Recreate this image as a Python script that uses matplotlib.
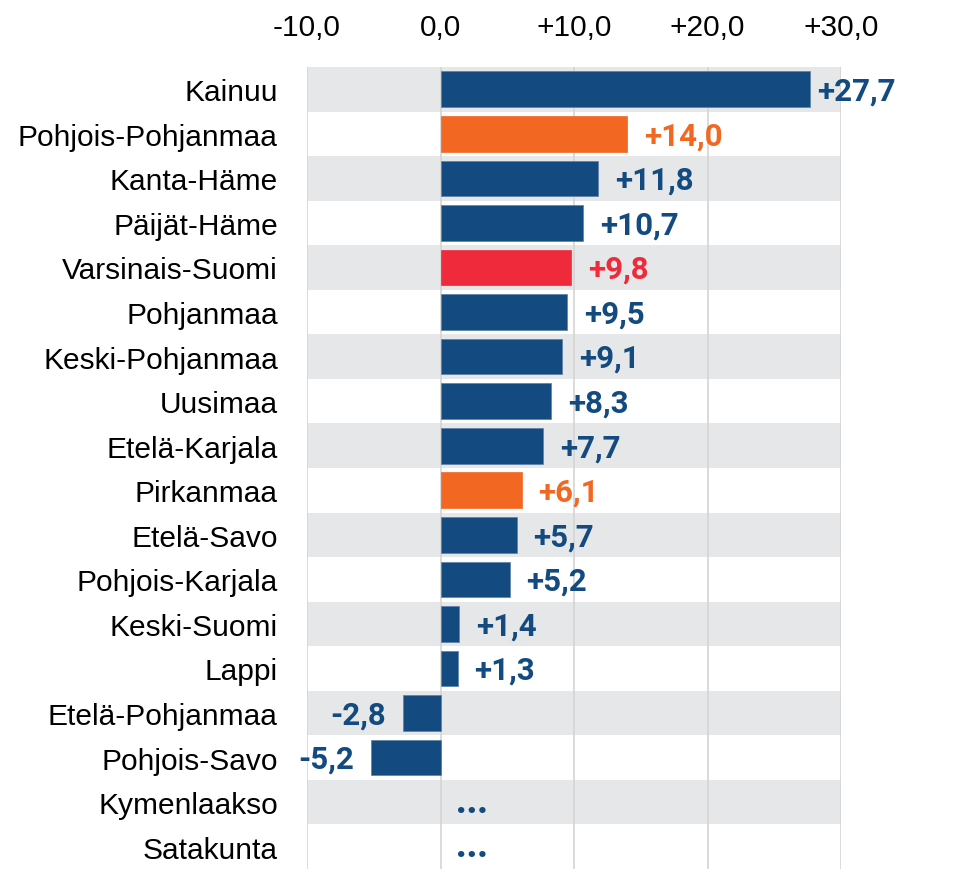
import numpy as np
import matplotlib.pyplot as plt

regions = ["Kainuu", "Pohjois-Pohjanmaa", "Kanta-Häme", "Päijät-Häme",
           "Varsinais-Suomi", "Pohjanmaa", "Keski-Pohjanmaa", "Uusimaa",
           "Etelä-Karjala", "Pirkanmaa", "Etelä-Savo", "Pohjois-Karjala",
           "Keski-Suomi", "Lappi", "Etelä-Pohjanmaa", "Pohjois-Savo",
           "Kymenlaakso", "Satakunta"]
values = [27.7, 14.0, 11.8, 10.7, 9.8, 9.5, 9.1, 8.3, 7.7, 6.1, 5.7, 5.2,
          1.4, 1.3, -2.8, -5.2, np.nan, np.nan]
highlight = {"Pohjois-Pohjanmaa": "orange", "Pirkanmaa": "orange",
             "Varsinais-Suomi": "red"}
ticks = [-10, 0, 10, 20, 30]

palette = {"navy": "#134a80", "orange": "#f26722", "red": "#ee2a3b"}


def fmt(v):
    s = f"{abs(v):.1f}".replace(".", ",")
    if v > 0:
        return "+" + s
    if v < 0:
        return "-" + s
    return s


fig = plt.figure(figsize=(9.72, 8.7), dpi=100)
ax = fig.add_axes([307 / 972, -4 / 870, 534 / 972, 806 / 870])

n = len(regions)
y = np.arange(n)
for i in range(n):
    if i % 2 == 0:
        ax.axhspan(i - 0.5, i + 0.5, color="#e6e7e9", zorder=0, lw=0)

for t in ticks:
    ax.axvline(t, color="#d4d4d4", lw=1.2, zorder=1)

lbl = dict(fontsize=22.5, fontweight="bold", family="Roboto",
           textcoords="offset points", va="center")
for i, (name, v) in enumerate(zip(regions, values)):
    col = palette[highlight.get(name, "navy")]
    if np.isnan(v):
        ax.annotate("...", (0, i), xytext=(11, 0), ha="left",
                    color=palette["navy"], fontsize=25, fontweight="heavy",
                    family="Roboto", textcoords="offset points", va="center")
        continue
    ax.barh(i, v, height=0.8, color=col, edgecolor="#5b7fa6" if col == palette["navy"] else col,
            lw=0.5, zorder=2)
    # label sits ~17 px off the bar end, closer for the longest bar
    off = 12 if v < 25 else 5
    if v < 0:
        off = -12
    ax.annotate(fmt(v), (v, i), xytext=(off, -1),
                ha="left" if v >= 0 else "right", color=col, **lbl)

ax.set_xlim(-10, 30)
ax.set_ylim(n - 0.5 + 0.09, -0.5)
ax.set_yticks(y)
ax.set_yticklabels(regions, fontsize=21.5, family="Liberation Sans")
ax.set_xticks(ticks)
ax.set_xticklabels([fmt(t) for t in ticks], fontsize=21.5, family="Liberation Sans")
ax.xaxis.tick_top()
ax.tick_params(axis="x", length=0, pad=19)
ax.tick_params(axis="y", length=0, pad=21)
for s in ax.spines.values():
    s.set_visible(False)

fig.savefig("out.png", dpi=100)
